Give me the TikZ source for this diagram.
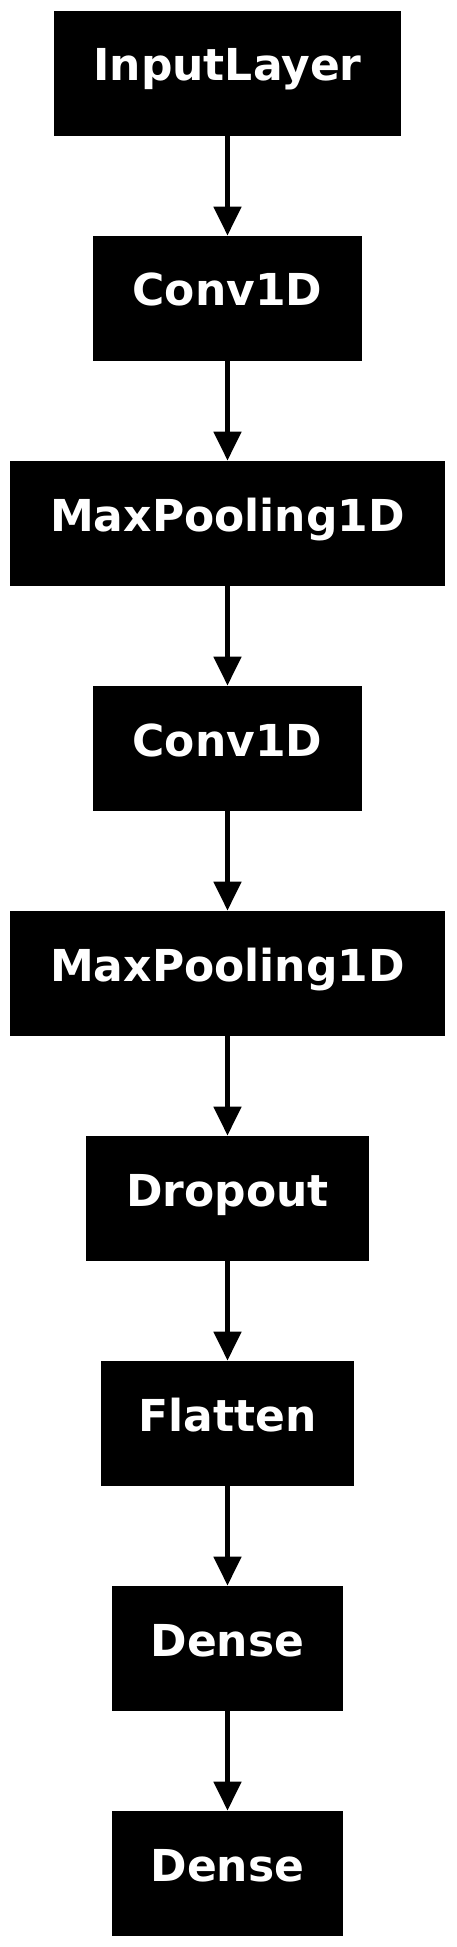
\documentclass[tikz,border=0pt]{standalone}
\usepackage{fontspec}
\setmainfont{DejaVu Sans}
\usetikzlibrary{arrows.meta}
\tikzset{
  layerbox/.style={draw=none, fill=black, text=white, font=\fontsize{22pt}{26pt}\selectfont\bfseries,
    minimum height=62.5pt, inner sep=0pt, text height=10pt, text depth=2.5pt, anchor=center},
  flowarrow/.style={line width=2.5pt, -{Triangle[width=13.5pt,length=14.5pt]}, shorten >=0pt}
}
\begin{document}
\begin{tikzpicture}[x=0.5pt,y=-0.5pt]
\useasboundingbox (0,0) rectangle (456,1947);
\node[layerbox, minimum width=173.5pt] (n0) at (227.5,73.5) {InputLayer};
\node[layerbox, minimum width=134.5pt] (n1) at (227.5,298.5) {Conv1D};
\node[layerbox, minimum width=217.5pt] (n2) at (227.5,523.5) {MaxPooling1D};
\node[layerbox, minimum width=134.5pt] (n3) at (227.5,748.5) {Conv1D};
\node[layerbox, minimum width=217.5pt] (n4) at (227.5,973.5) {MaxPooling1D};
\node[layerbox, minimum width=141.5pt] (n5) at (227.5,1198.5) {Dropout};
\node[layerbox, minimum width=126.5pt] (n6) at (227.5,1423.5) {Flatten};
\node[layerbox, minimum width=115.5pt] (n7) at (227.5,1648.5) {Dense};
\node[layerbox, minimum width=115.5pt] (n8) at (227.5,1873.5) {Dense};
\foreach \a/\b in {n0/n1,n1/n2,n2/n3,n3/n4,n4/n5,n5/n6,n6/n7,n7/n8}
  \draw[flowarrow] (\a.south) -- (\b.north);
\end{tikzpicture}
\end{document}
